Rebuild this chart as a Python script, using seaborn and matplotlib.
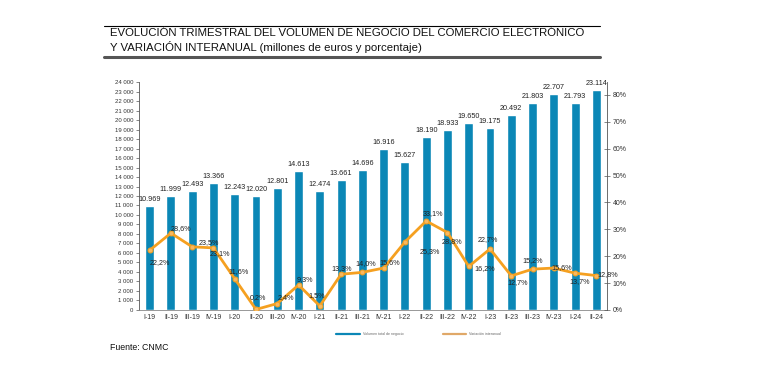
import numpy as np
import pandas as pd
import matplotlib
matplotlib.use("Agg")
import matplotlib.pyplot as plt
from matplotlib.lines import Line2D
import seaborn as sns

# Data
quarters = ["I-19", "II-19", "III-19", "IV-19", "I-20", "II-20", "III-20", "IV-20",
            "I-21", "II-21", "III-21", "IV-21", "I-22", "II-22", "III-22", "IV-22",
            "I-23", "II-23", "III-23", "IV-23", "I-24", "II-24"]
volumen = [10969, 11999, 12493, 13366, 12243, 12020, 12801, 14613,
           12474, 13661, 14696, 16916, 15627, 18190, 18933, 19650,
           19175, 20492, 21803, 22707, 21793, 23114]
variacion = [22.2, 28.6, 23.5, 23.1, 11.6, 0.2, 2.4, 9.3,
             1.5, 13.3, 14.0, 15.6, 25.3, 33.1, 28.8, 16.2,
             22.7, 12.7, 15.2, 15.6, 13.7, 12.8]

# label offsets for the percentages (pixels), to mimic the original placement
pct_offsets = [(10, -12), (10, 5), (17, 4), (6, -6), (4, 7), (2, 12), (9, 6), (6, 5),
               (-3, 10), (1, 6), (3, 9), (6, 6), (25, -10), (7, 7), (5, -9), (16, -2),
               (-2, 9), (6, -7), (0, 9), (8, 1), (5, -8), (11, 1)]

BLUE = "#0b87b6"
ORANGE = "#f5a020"
FONT = ["Liberation Sans", "DejaVu Sans"]

sns.set_style("white")
plt.rcParams["font.family"] = FONT

df = pd.DataFrame({"trimestre": quarters, "volumen": volumen, "variacion": variacion})

fig = plt.figure(figsize=(7.6, 3.92), dpi=100)
ax = fig.add_axes([0.1829, 0.2092, 0.6158, 0.5816])

sns.barplot(data=df, x="trimestre", y="volumen", color=BLUE, width=0.42,
            saturation=1, ax=ax)
ax.set_ylim(0, 24000)
ax.set_xlim(-0.5, len(quarters) - 0.5)
ax.set_xlabel("")
ax.set_ylabel("")

for i, v in enumerate(volumen):
    ax.annotate(f"{v:,}".replace(",", "."), (i, v), xytext=(0, 3),
                textcoords="offset pixels", ha="center", va="bottom",
                fontsize=5.2, color="#222222")

ax.set_yticks(np.arange(0, 24001, 1000))
ax.set_yticklabels([f"{t:,}".replace(",", " ") if t else "0" for t in range(0, 24001, 1000)],
                   fontsize=4.3, color="#333333")
ax.tick_params(axis="y", length=2, width=0.5, pad=2, color="#555555")
ax.tick_params(axis="x", length=0, labelsize=5, pad=3, labelcolor="#333333")
ax.set_xticks(np.arange(-0.5, len(quarters)), minor=True)
ax.tick_params(axis="x", which="minor", length=2, width=0.4, color="#888888")

for s in ["top", "right"]:
    ax.spines[s].set_visible(False)
ax.spines["left"].set_color("#555555")
ax.spines["left"].set_linewidth(0.6)
ax.spines["bottom"].set_color("#888888")
ax.spines["bottom"].set_linewidth(0.6)

# second axis: year-on-year variation
ax2 = ax.twinx()
x = np.arange(len(quarters))
sns.lineplot(x=x, y=variacion, color=ORANGE, linewidth=2, marker="o", markersize=3.5,
             markerfacecolor="#f8b860", markeredgecolor=ORANGE, ax=ax2)
ax2.set_ylim(0, 84.8)
ax2.set_yticks(np.arange(0, 81, 10))
ax2.set_yticklabels([f"{t}%" for t in range(0, 81, 10)], fontsize=5, color="#333333")
ax2.tick_params(axis="y", direction="inout", length=4, width=0.5, pad=2, color="#555555")
for s in ["top", "left", "bottom"]:
    ax2.spines[s].set_visible(False)
ax2.spines["right"].set_color("#555555")
ax2.spines["right"].set_linewidth(0.6)

for i, (v, (dx, dy)) in enumerate(zip(variacion, pct_offsets)):
    ax2.annotate(f"{v:.1f}%".replace(".", ","), (i, v), xytext=(dx, dy),
                 textcoords="offset pixels", ha="center", va="center",
                 fontsize=5.2, color="#222222")

# title block with rules
fig.add_artist(Line2D([104 / 760, 600 / 760], [1 - 26 / 392] * 2, color="black", lw=0.8))
fig.add_artist(Line2D([104 / 760, 600 / 760], [1 - 57 / 392] * 2, color="#555555", lw=2.2))
fig.text(110 / 760, 1 - 33 / 392,
         "EVOLUCIÓN TRIMESTRAL DEL VOLUMEN DE NEGOCIO DEL COMERCIO ELECTRÓNICO",
         fontsize=8.2, va="center", ha="left", color="#111111")
fig.text(110 / 760, 1 - 47 / 392,
         "Y VARIACIÓN INTERANUAL (millones de euros y porcentaje)",
         fontsize=8.2, va="center", ha="left", color="#111111")

# legend (tiny, as in the source image)
handles = [Line2D([], [], color=BLUE, lw=1.6), Line2D([], [], color="#e0a868", lw=1.6)]
fig.legend(handles, ["Volumen total de negocio", "Variación interanual"],
           loc="center left", bbox_to_anchor=(333 / 760, 1 - 334 / 392), ncol=2,
           fontsize=2.6, frameon=False, handlelength=6.5, columnspacing=11,
           handletextpad=0.8, labelcolor="#666666")

fig.text(110 / 760, 1 - 348 / 392, "Fuente: CNMC", fontsize=6.3, va="center",
         ha="left", color="#111111")

fig.savefig("out.png", dpi=100)
